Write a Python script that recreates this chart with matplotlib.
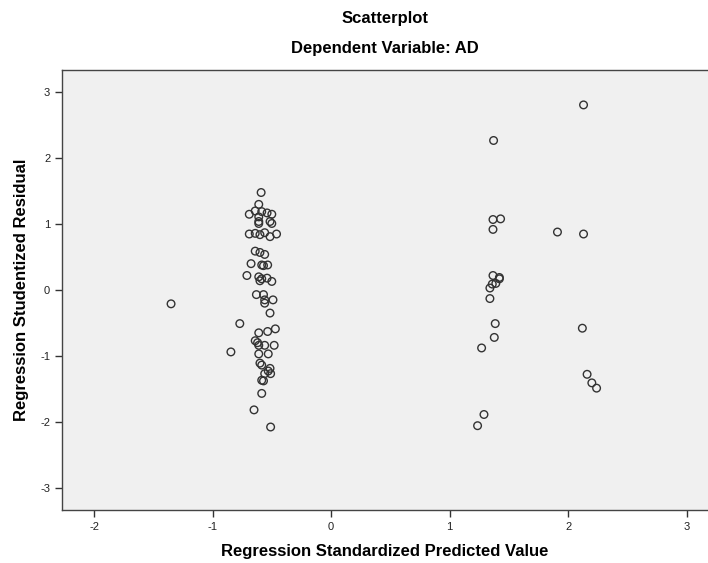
import matplotlib
matplotlib.use("Agg")
import matplotlib.pyplot as plt

plt.rcParams['font.family'] = ['Liberation Sans', 'DejaVu Sans']
plt.rcParams['axes.unicode_minus'] = False

# Regression Standardized Predicted Value
pred = [
    # right group
    2.13, 1.91, 2.13, 2.12, 2.16, 2.20, 2.24,
    # middle group
    1.371, 1.366, 1.43, 1.366, 1.366, 1.42, 1.42, 1.39, 1.36, 1.34, 1.34,
    1.385, 1.377, 1.27, 1.29, 1.236,
    # left outliers
    -1.35, -0.77, -0.845,
    # dense cluster
    -0.59, -0.61, -0.69, -0.64, -0.585, -0.54, -0.50, -0.61, -0.61, -0.515,
    -0.61, -0.50, -0.69, -0.64, -0.60, -0.56, -0.515, -0.46,
    -0.64, -0.60, -0.56, -0.675, -0.585, -0.535,
    -0.57, -0.71, -0.61, -0.585, -0.54, -0.60, -0.50,
    -0.63, -0.57, -0.56, -0.49,
    -0.56, -0.515, -0.61, -0.535, -0.47,
    -0.64, -0.62, -0.56, -0.48,
    -0.61, -0.61, -0.53, -0.60, -0.585, -0.515, -0.53, -0.56, -0.51, -0.585,
    -0.57, -0.585, -0.65, -0.51,
]

# Regression Studentized Residual
resid = [
    2.81, 0.88, 0.85, -0.58, -1.28, -1.41, -1.49,
    2.27, 1.07, 1.08, 0.92, 0.22, 0.19, 0.17, 0.10, 0.09, 0.03, -0.13,
    -0.51, -0.72, -0.88, -1.89, -2.06,
    -0.21, -0.51, -0.94,
    1.48, 1.30, 1.15, 1.20, 1.19, 1.17, 1.15, 1.11, 1.04, 1.04,
    1.01, 1.01, 0.85, 0.86, 0.84, 0.87, 0.81, 0.85,
    0.59, 0.57, 0.54, 0.40, 0.38, 0.38,
    0.37, 0.22, 0.20, 0.17, 0.18, 0.14, 0.13,
    -0.07, -0.07, -0.15, -0.15,
    -0.20, -0.35, -0.65, -0.63, -0.59,
    -0.77, -0.80, -0.84, -0.84,
    -0.84, -0.97, -0.97, -1.11, -1.14, -1.19, -1.23, -1.27, -1.27, -1.37,
    -1.38, -1.57, -1.82, -2.08,
]

xticks = [-2, -1, 0, 1, 2, 3]
yticks = [-3, -2, -1, 0, 1, 2, 3]

fig = plt.figure(figsize=(7.08, 5.63), dpi=100)
ax = fig.add_axes([62/708, 1 - 510/563, 1 - 62/708, (510 - 70)/563])
ax.set_facecolor('#F0F0F0')

ax.scatter(pred, resid, s=30, facecolors='none', edgecolors='#333333', linewidths=1.0)

ax.set_xlim(-2.27, 3.18)
ax.set_ylim(-3.34, 3.34)
ax.set_xticks(xticks)
ax.set_yticks(yticks)
ax.tick_params(direction='out', length=5, width=1, labelsize=8, color='#333333', labelcolor='#222222')

for side in ['left', 'bottom', 'top']:
    ax.spines[side].set_color('#444444')
    ax.spines[side].set_linewidth(1.0)
ax.spines['right'].set_visible(False)

ax.set_xlabel('Regression Standardized Predicted Value', fontsize=12, fontweight='bold', labelpad=9)
ax.set_ylabel('Regression Studentized Residual', fontsize=12, fontweight='bold', labelpad=8)

cx = (62 + 708) / 2 / 708
fig.text(cx, 1 - 19/563, 'Scatterplot', ha='center', va='center', fontsize=12, fontweight='bold')
fig.text(cx, 1 - 48/563, 'Dependent Variable: AD', ha='center', va='center', fontsize=12, fontweight='bold')

fig.savefig('out.png', dpi=100)
